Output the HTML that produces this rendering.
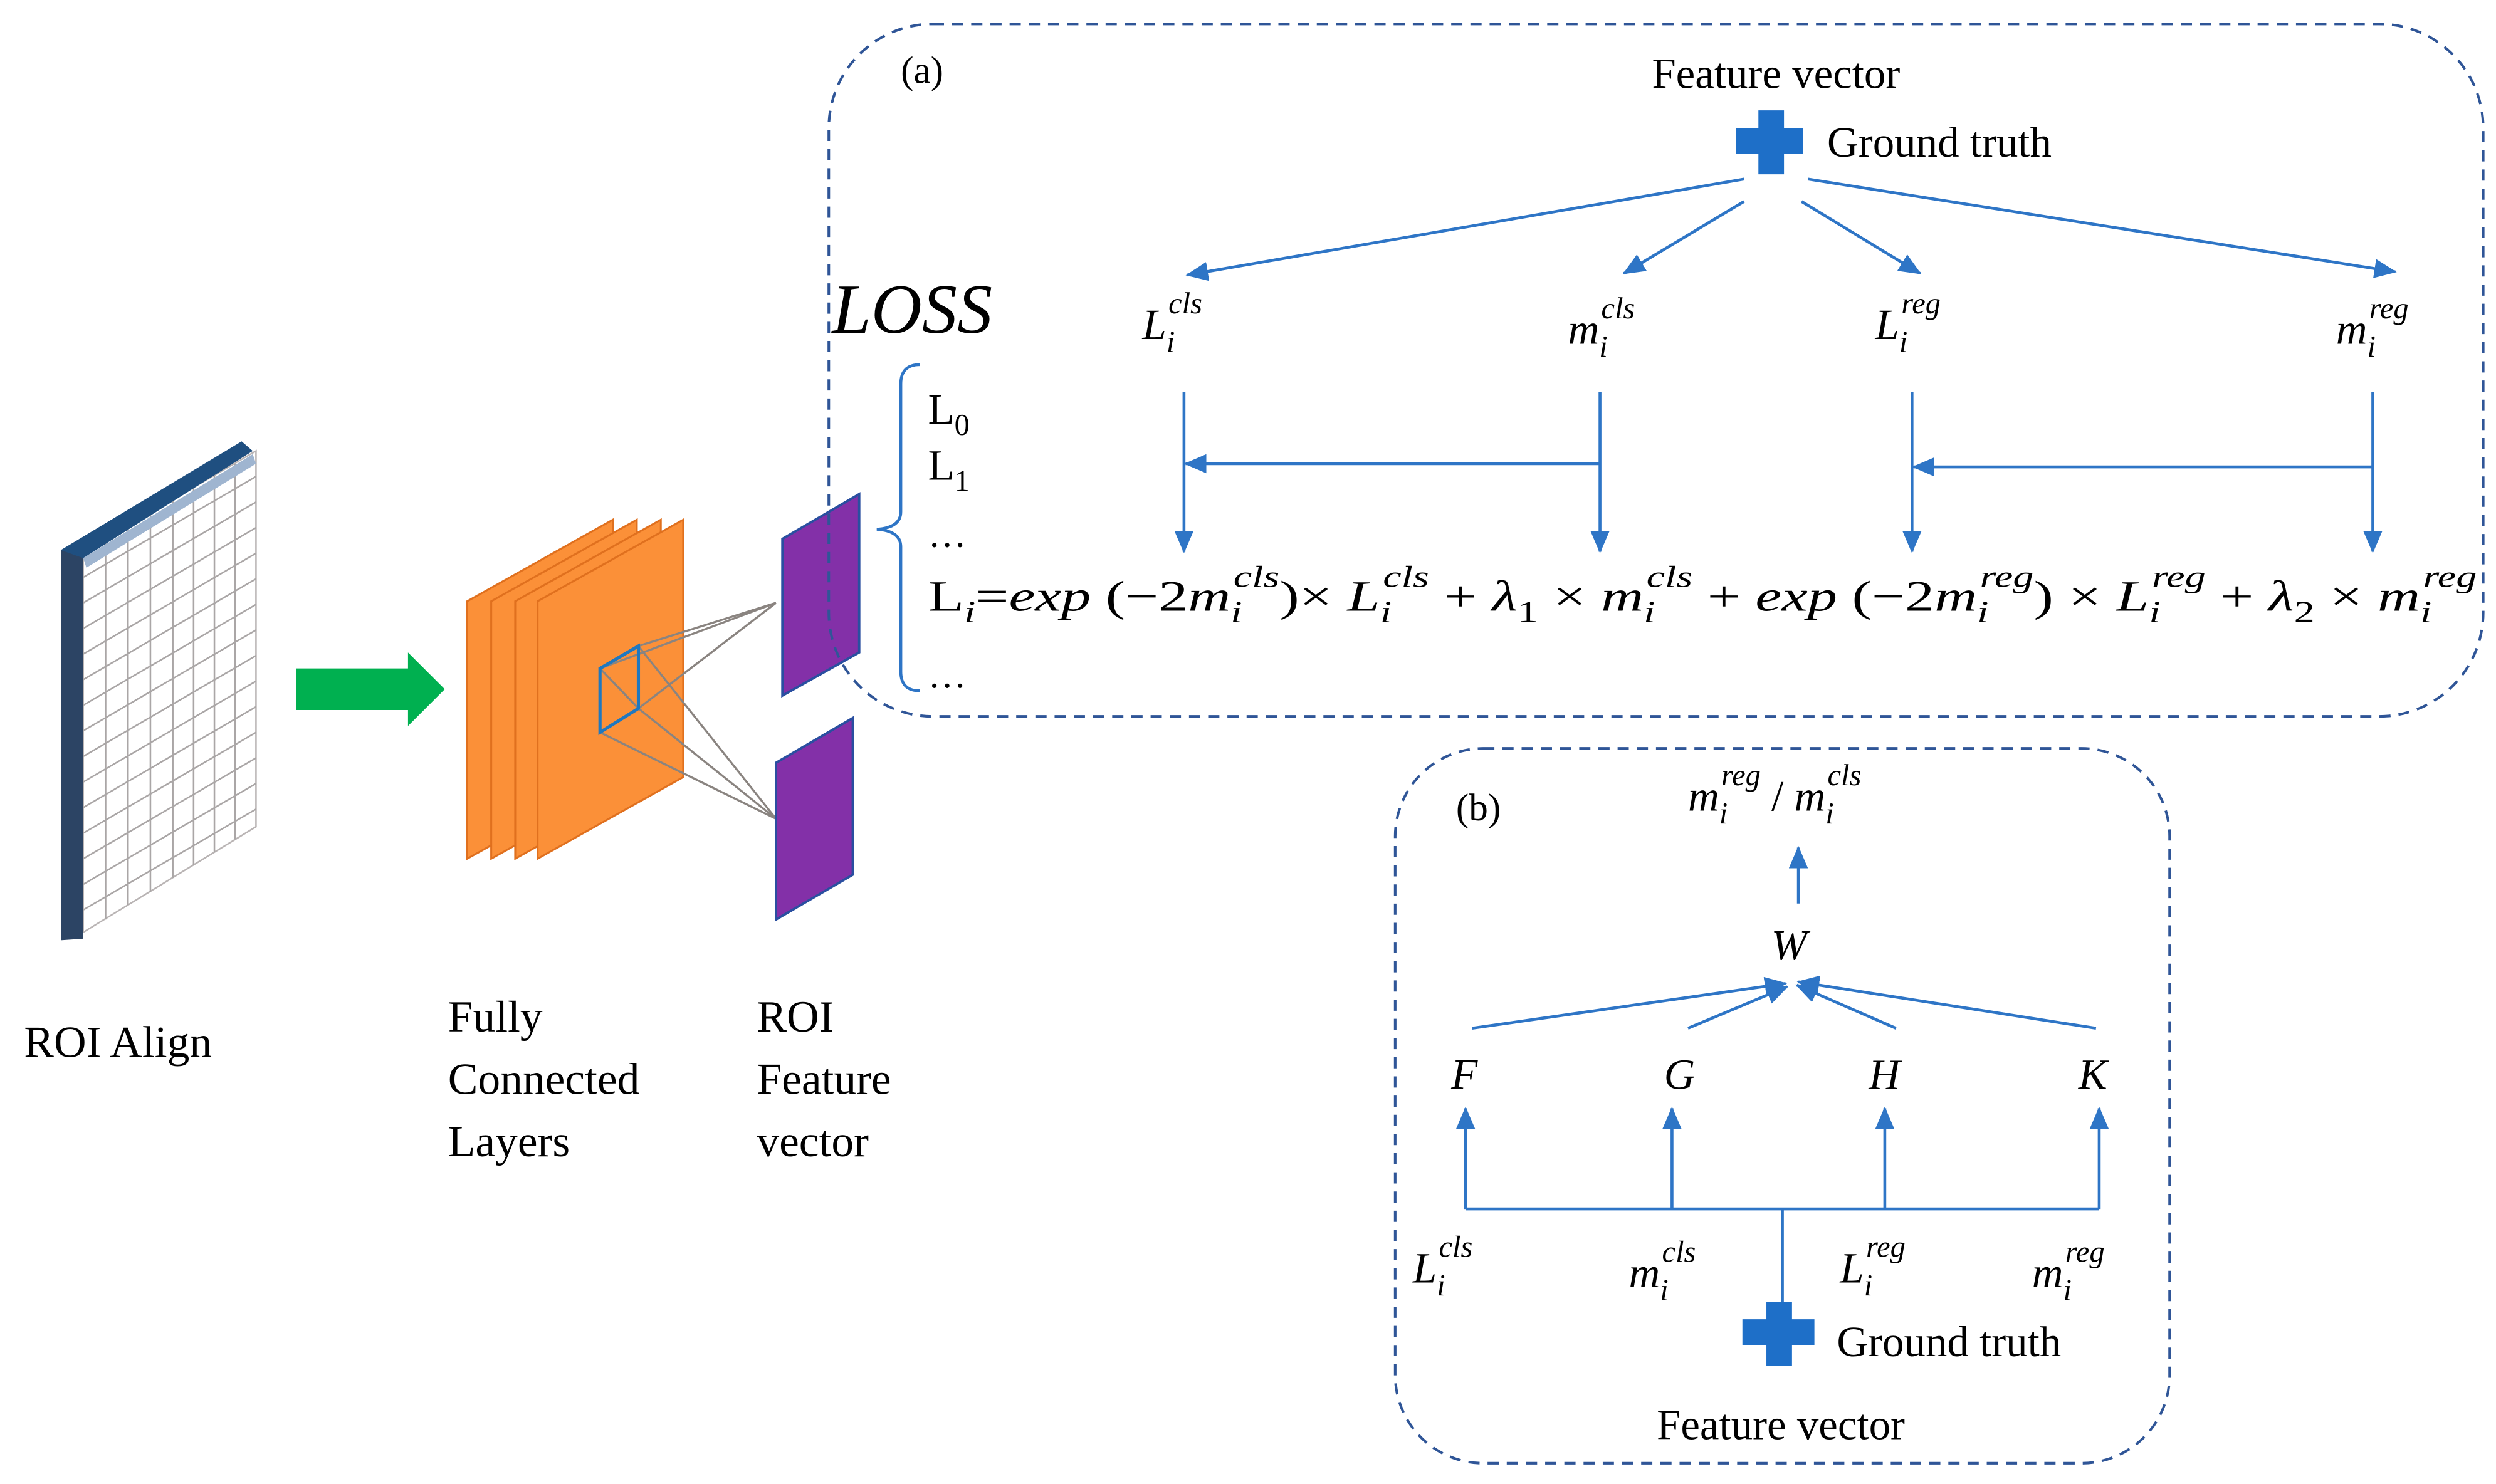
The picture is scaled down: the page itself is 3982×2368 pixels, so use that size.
<!DOCTYPE html>
<html><head><meta charset="utf-8"><style>
html,body{margin:0;padding:0;background:#fff;}
svg{display:block;}
text{font-family:"Liberation Serif",serif;fill:#000;}
.m{font-style:italic;}
</style></head><body>
<svg width="3982" height="2368" viewBox="0 0 1560 928" preserveAspectRatio="none" xmlns="http://www.w3.org/2000/svg">
<defs>
<marker id="ah" markerWidth="8" markerHeight="8" refX="7" refY="4" orient="auto" markerUnits="userSpaceOnUse">
<path d="M0,0 L8,4 L0,8 Z" fill="#2E75C6"/>
</marker>
<marker id="ah2" markerWidth="14" markerHeight="12" refX="13" refY="6" orient="auto" markerUnits="userSpaceOnUse">
<path d="M0,0 L14,6 L0,12 Z" fill="#2E75C6"/>
</marker>
</defs>

<!-- ROI Align grid -->
<polygon points="52,345 160,282 160,517 52,583" fill="#fff" stroke="#b9b4b4" stroke-width="1"/>
<g stroke="#aaa6a6" stroke-width="1">
<line x1="66" y1="337" x2="66" y2="575"/><line x1="80" y1="329" x2="80" y2="566"/>
<line x1="94" y1="320" x2="94" y2="558"/><line x1="108" y1="312" x2="108" y2="549"/>
<line x1="121" y1="305" x2="121" y2="541"/><line x1="134" y1="297" x2="134" y2="533"/>
<line x1="147" y1="290" x2="147" y2="525"/>
<line x1="52" y1="361" x2="160" y2="298"/><line x1="52" y1="377" x2="160" y2="314"/>
<line x1="52" y1="393" x2="160" y2="330"/><line x1="52" y1="409" x2="160" y2="346"/>
<line x1="52" y1="425" x2="160" y2="362"/><line x1="52" y1="441" x2="160" y2="378"/>
<line x1="52" y1="457" x2="160" y2="394"/><line x1="52" y1="473" x2="160" y2="410"/>
<line x1="52" y1="489" x2="160" y2="426"/><line x1="52" y1="505" x2="160" y2="442"/>
<line x1="52" y1="521" x2="160" y2="458"/><line x1="52" y1="537" x2="160" y2="474"/>
<line x1="52" y1="553" x2="160" y2="490"/><line x1="52" y1="569" x2="160" y2="506"/>
</g>
<polygon points="38,344 52,344 52,587 38,588" fill="#2c4464"/>
<polygon points="38,344 151,276 158,282 52,349" fill="#1f4f80"/>
<polygon points="52,349 158,284 160,290 54,355" fill="#9fb5d0"/>

<!-- green arrow -->
<polygon points="185,418 255,418 255,408 278,431 255,454 255,444 185,444" fill="#00b050"/>

<!-- orange layers -->
<g fill="#fb9038" stroke="#e0701e" stroke-width="1.2">
<polygon points="292,376 383,325 383,486 292,537"/>
<polygon points="307,376 398,325 398,486 307,537"/>
<polygon points="322,376 413,325 413,486 322,537"/>
<polygon points="336,376 427,325 427,486 336,537"/>
</g>
<!-- gray connection lines -->
<g stroke="#8a8480" stroke-width="1.3">
<line x1="399" y1="404" x2="485" y2="377"/><line x1="399" y1="443" x2="485" y2="377"/>
<line x1="375" y1="418" x2="485" y2="377"/><line x1="399" y1="404" x2="485" y2="512"/>
<line x1="399" y1="443" x2="485" y2="512"/><line x1="375" y1="458" x2="485" y2="512"/>
<line x1="375" y1="418" x2="399" y2="443"/>
</g>
<polygon points="375,418 399,404 399,443 375,458" fill="none" stroke="#1f78c0" stroke-width="2"/>

<!-- purple rects -->
<polygon points="489,337 537,309 537,408 489,435" fill="#8330a8" stroke="#2a4fa0" stroke-width="1.5"/>
<polygon points="485,477 533,449 533,547 485,575" fill="#8330a8" stroke="#2a4fa0" stroke-width="1.5"/>

<!-- bottom-left labels -->
<text x="15" y="661" font-size="28">ROI Align</text>
<text x="280" y="645" font-size="28">Fully</text>
<text x="280" y="684" font-size="28">Connected</text>
<text x="280" y="723" font-size="28">Layers</text>
<text x="473" y="645" font-size="28">ROI</text>
<text x="473" y="684" font-size="28">Feature</text>
<text x="473" y="723" font-size="28">vector</text>

<!-- (a) box -->
<rect x="518" y="15" width="1034" height="433" rx="65" ry="65" fill="none" stroke="#2f5597" stroke-width="1.6" stroke-dasharray="7,5"/>
<text x="563" y="52" font-size="24">(a)</text>
<text x="1110" y="55" font-size="27" text-anchor="middle">Feature vector</text>
<path d="M1099,69 h16 v11 h12 v16 h-12 v13 h-16 v-13 h-14 v-16 h14 z" fill="#1e6fc8"/>
<text x="1142" y="98" font-size="27">Ground truth</text>
<g stroke="#2E75C6" stroke-width="1.8" fill="none">
<line x1="1090" y1="112" x2="742" y2="172" marker-end="url(#ah2)"/>
<line x1="1090" y1="126" x2="1015" y2="171" marker-end="url(#ah2)"/>
<line x1="1126" y1="126" x2="1200" y2="171" marker-end="url(#ah2)"/>
<line x1="1130" y1="112" x2="1497" y2="170" marker-end="url(#ah2)"/>
<line x1="740" y1="245" x2="740" y2="345" marker-end="url(#ah2)"/>
<line x1="1000" y1="245" x2="1000" y2="345" marker-end="url(#ah2)"/>
<line x1="1195" y1="245" x2="1195" y2="345" marker-end="url(#ah2)"/>
<line x1="1483" y1="245" x2="1483" y2="345" marker-end="url(#ah2)"/>
<line x1="1000" y1="290" x2="741" y2="290" marker-end="url(#ah2)"/>
<line x1="1483" y1="292" x2="1196" y2="292" marker-end="url(#ah2)"/>
</g>
<text x="520" y="208" font-size="44" class="m">LOSS</text>
<g font-size="27" class="m">
<text x="714" y="212">L<tspan font-size="19" dy="8">i</tspan><tspan font-size="19" dx="-4" dy="-24">cls</tspan></text>
<text x="980" y="215">m<tspan font-size="19" dy="8">i</tspan><tspan font-size="19" dx="-4" dy="-24">cls</tspan></text>
<text x="1172" y="212">L<tspan font-size="19" dy="8">i</tspan><tspan font-size="19" dx="-4" dy="-24">reg</tspan></text>
<text x="1460" y="215">m<tspan font-size="19" dy="8">i</tspan><tspan font-size="19" dx="-4" dy="-24">reg</tspan></text>
</g>
<!-- brace -->
<path d="M575,228 Q563,228 563,240 L563,320 Q563,330 548,331 Q563,332 563,342 L563,420 Q563,432 575,432" fill="none" stroke="#2E75C6" stroke-width="1.8"/>
<text x="580" y="265" font-size="27">L<tspan font-size="19" dy="7">0</tspan></text>
<text x="580" y="300" font-size="27">L<tspan font-size="19" dy="7">1</tspan></text>
<text x="580" y="342" font-size="24">…</text>
<text x="580" y="430" font-size="24">…</text>
<text x="580" y="382" font-size="27" textLength="968" lengthAdjust="spacingAndGlyphs">L<tspan font-size="19" dy="7" class="m">i</tspan><tspan dy="-7">=</tspan><tspan class="m">exp</tspan> (−2<tspan class="m">m</tspan><tspan font-size="19" dy="7" class="m">i</tspan><tspan font-size="19" dx="-4" dy="-22" class="m">cls</tspan><tspan dy="15">)× </tspan><tspan class="m">L</tspan><tspan font-size="19" dy="7" class="m">i</tspan><tspan font-size="19" dx="-4" dy="-22" class="m">cls</tspan><tspan dy="15"> + </tspan><tspan class="m">λ</tspan><tspan font-size="19" dy="7">1</tspan><tspan dy="-7"> × </tspan><tspan class="m">m</tspan><tspan font-size="19" dy="7" class="m">i</tspan><tspan font-size="19" dx="-4" dy="-22" class="m">cls</tspan><tspan dy="15"> + </tspan><tspan class="m">exp</tspan> (−2<tspan class="m">m</tspan><tspan font-size="19" dy="7" class="m">i</tspan><tspan font-size="19" dx="-4" dy="-22" class="m">reg</tspan><tspan dy="15">) × </tspan><tspan class="m">L</tspan><tspan font-size="19" dy="7" class="m">i</tspan><tspan font-size="19" dx="-4" dy="-22" class="m">reg</tspan><tspan dy="15"> + </tspan><tspan class="m">λ</tspan><tspan font-size="19" dy="7">2</tspan><tspan dy="-7"> × </tspan><tspan class="m">m</tspan><tspan font-size="19" dy="7" class="m">i</tspan><tspan font-size="19" dx="-4" dy="-22" class="m">reg</tspan></text>

<!-- (b) box -->
<rect x="872" y="468" width="484" height="447" rx="55" ry="55" fill="none" stroke="#2f5597" stroke-width="1.6" stroke-dasharray="7,5"/>
<text x="910" y="513" font-size="24">(b)</text>
<text x="1055" y="507" font-size="27" class="m">m<tspan font-size="19" dy="8">i</tspan><tspan font-size="19" dx="-4" dy="-24">reg</tspan><tspan dy="16" font-style="normal"> / </tspan>m<tspan font-size="19" dy="8">i</tspan><tspan font-size="19" dx="-4" dy="-24">cls</tspan></text>
<text x="1107" y="600" font-size="27" class="m">W</text>
<g stroke="#2E75C6" stroke-width="1.8" fill="none">
<line x1="1124" y1="565" x2="1124" y2="530" marker-end="url(#ah2)"/>
<line x1="920" y1="643" x2="1116" y2="615" marker-end="url(#ah2)"/>
<line x1="1055" y1="643" x2="1117" y2="617" marker-end="url(#ah2)"/>
<line x1="1185" y1="643" x2="1123" y2="616" marker-end="url(#ah2)"/>
<line x1="1310" y1="643" x2="1124" y2="614" marker-end="url(#ah2)"/>
<line x1="916" y1="756" x2="1312" y2="756"/>
<line x1="1114" y1="756" x2="1114" y2="815"/>
<line x1="916" y1="756" x2="916" y2="693" marker-end="url(#ah2)"/>
<line x1="1045" y1="756" x2="1045" y2="693" marker-end="url(#ah2)"/>
<line x1="1178" y1="756" x2="1178" y2="693" marker-end="url(#ah2)"/>
<line x1="1312" y1="756" x2="1312" y2="693" marker-end="url(#ah2)"/>
</g>
<g font-size="27" class="m">
<text x="907" y="681">F</text><text x="1040" y="681">G</text>
<text x="1168" y="681">H</text><text x="1299" y="681">K</text>
<text x="883" y="802">L<tspan font-size="19" dy="8">i</tspan><tspan font-size="19" dx="-4" dy="-24">cls</tspan></text>
<text x="1018" y="805">m<tspan font-size="19" dy="8">i</tspan><tspan font-size="19" dx="-4" dy="-24">cls</tspan></text>
<text x="1150" y="802">L<tspan font-size="19" dy="8">i</tspan><tspan font-size="19" dx="-4" dy="-24">reg</tspan></text>
<text x="1270" y="805">m<tspan font-size="19" dy="8">i</tspan><tspan font-size="19" dx="-4" dy="-24">reg</tspan></text>
</g>
<path d="M1104,814 h16 v11 h14 v16 h-14 v13 h-16 v-13 h-15 v-16 h15 z" fill="#1e6fc8"/>
<text x="1148" y="848" font-size="27">Ground truth</text>
<text x="1113" y="900" font-size="27" text-anchor="middle">Feature vector</text>
</svg>
</body></html>
